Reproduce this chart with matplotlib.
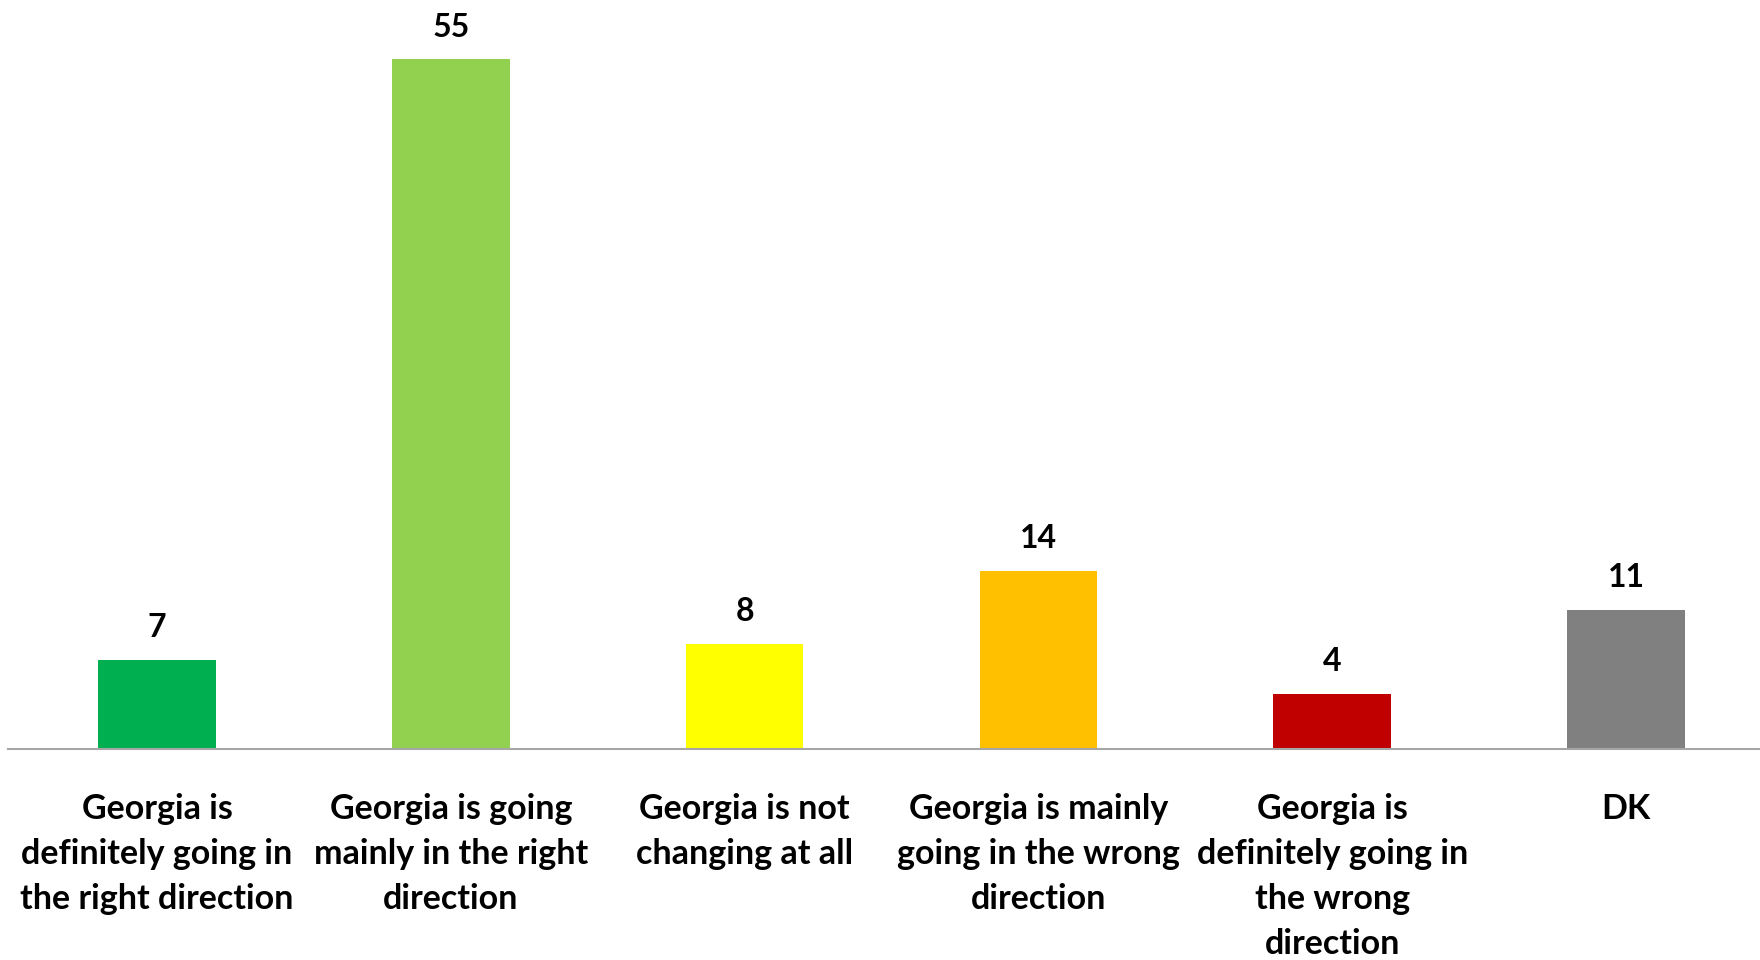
import matplotlib
matplotlib.use("Agg")
from matplotlib import pyplot as plt

categories = [
    "Georgia is\ndefinitely going in\nthe right direction",
    "Georgia is going\nmainly in the right\ndirection",
    "Georgia is not\nchanging at all",
    "Georgia is mainly\ngoing in the wrong\ndirection",
    "Georgia is\ndefinitely going in\nthe wrong\ndirection",
    "DK",
]
# bar heights (labels show them rounded)
values = [7.1, 55.0, 8.4, 14.2, 4.4, 11.1]
colors = ["#00B050", "#92D050", "#FFFF00", "#FFC000", "#C00000", "#808080"]

plt.rcParams["font.family"] = ["Lato", "DejaVu Sans"]

fig = plt.figure(figsize=(17.6, 9.6), dpi=100)
ax = fig.add_axes([8 / 1760, 1 - 749 / 960, 1 - 8 / 1760, 749 / 960])

x = list(range(len(values)))
ax.bar(x, values, width=0.40, color=colors)

for xi, v in zip(x, values):
    ax.annotate(f"{v:.0f}", (xi, v), xytext=(0, 23), textcoords="offset points",
                ha="center", va="center", fontsize=23, fontweight="bold")

ax.set_xlim(-0.507, 5.456)
ax.set_ylim(0, 59.7)
ax.set_xticks(x)
ax.set_xticklabels(categories, fontsize=24.5, fontweight="bold", linespacing=1.5)
ax.tick_params(axis="x", length=0, pad=32)
ax.set_yticks([])

for s in ("top", "right", "left"):
    ax.spines[s].set_visible(False)
ax.spines["bottom"].set_color("#A6A6A6")
ax.spines["bottom"].set_linewidth(1.5)

fig.savefig("out.png", dpi=100)
